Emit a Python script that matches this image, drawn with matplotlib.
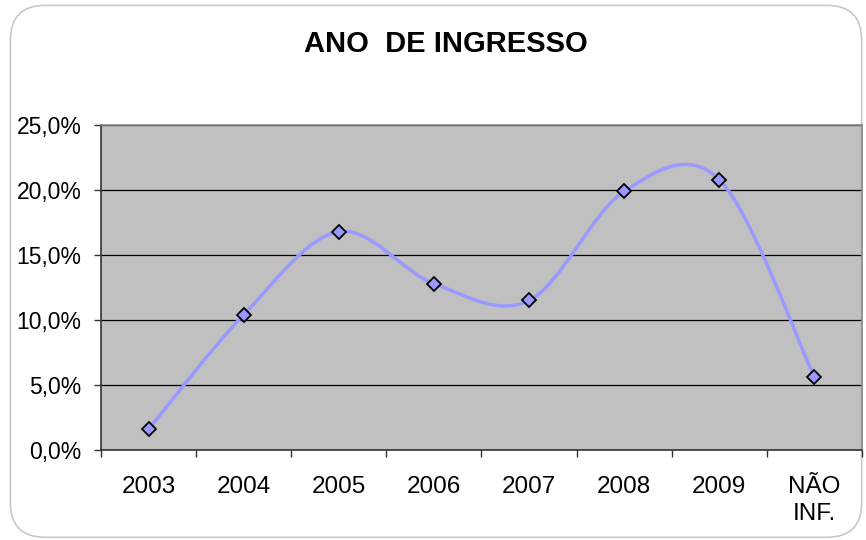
import matplotlib
matplotlib.use("Agg")
import matplotlib.pyplot as plt
from matplotlib.path import Path
from matplotlib.patches import PathPatch, FancyBboxPatch
from matplotlib.ticker import FixedLocator, FuncFormatter, NullFormatter
import numpy as np

categories = ["2003", "2004", "2005", "2006", "2007", "2008", "2009", "NÃO\nINF."]
values = [1.6, 10.4, 16.8, 12.8, 11.5, 19.9, 20.8, 5.6]
title = "ANO  DE INGRESSO"

plt.rcParams['font.family'] = ['Liberation Sans', 'DejaVu Sans']

fig = plt.figure(figsize=(8.66, 5.4), dpi=100)
fig.patch.set_facecolor("white")
border = FancyBboxPatch((0.012, 0.005), 0.983, 0.985, boxstyle="round,pad=0,rounding_size=0.04",
                        transform=fig.transFigure, facecolor="none", edgecolor="#c8c8c8",
                        linewidth=1.2, mutation_aspect=866/540, zorder=-5)
fig.patches.append(border)

ax = fig.add_axes([0.1166, 0.1667, 0.8788, 0.6018])
ax.set_facecolor("#C0C0C0")
x = np.arange(len(categories))
y = np.array(values)

# Excel-like smoothed line (Catmull-Rom as cubic Bezier)
verts = [(x[0], y[0])]
codes = [Path.MOVETO]
n = len(x)
for i in range(n - 1):
    p0 = np.array([x[i - 1], y[i - 1]]) if i > 0 else np.array([x[i], y[i]])
    p1 = np.array([x[i], y[i]])
    p2 = np.array([x[i + 1], y[i + 1]])
    p3 = np.array([x[i + 2], y[i + 2]]) if i + 2 < n else p2
    c1 = p1 + (p2 - p0) / 6
    c2 = p2 - (p3 - p1) / 6
    verts += [tuple(c1), tuple(c2), tuple(p2)]
    codes += [Path.CURVE4] * 3
ax.add_patch(PathPatch(Path(verts, codes), facecolor="none", edgecolor="#9999FF",
                       linewidth=2.5, zorder=3))
ax.plot(x, y, linestyle="none", marker="D", markersize=7, markerfacecolor="#9999FF",
        markeredgecolor="black", markeredgewidth=1.3, zorder=4)

ax.set_xlim(-0.5, n - 0.5)
ax.set_ylim(0, 25)
ax.yaxis.set_major_locator(FixedLocator([0, 5, 10, 15, 20, 25]))
ax.yaxis.set_major_formatter(FuncFormatter(lambda v, p: f"{v:.1f}%".replace(".", ",")))
ax.grid(axis="y", color="black", linewidth=0.9)
ax.set_axisbelow(True)

ax.xaxis.set_major_locator(FixedLocator(np.arange(-0.5, n, 1.0)))
ax.xaxis.set_major_formatter(NullFormatter())
ax.xaxis.set_minor_locator(FixedLocator(x))
ax.set_xticklabels(categories, minor=True)
ax.tick_params(axis="x", which="minor", length=0, pad=19, labelsize=17.5)
ax.tick_params(axis="x", which="major", length=5, width=1, color="#333333", direction="out")
ax.tick_params(axis="y", length=5, width=1, color="#333333", direction="out", labelsize=16.5, pad=9)
for lab in ax.get_xticklabels(minor=True):
    lab.set_linespacing(1.25)

for s in ["left", "bottom"]:
    ax.spines[s].set_color("#333333")
    ax.spines[s].set_linewidth(1.2)
for s in ["top", "right"]:
    ax.spines[s].set_color("#888888")
    ax.spines[s].set_linewidth(1.2)

fig.text(0.515, 0.918, title, ha="center", va="center", fontsize=21, fontweight="bold",
         family=['Liberation Sans Narrow', 'Liberation Sans', 'DejaVu Sans'])

fig.savefig("out.png", dpi=100)
